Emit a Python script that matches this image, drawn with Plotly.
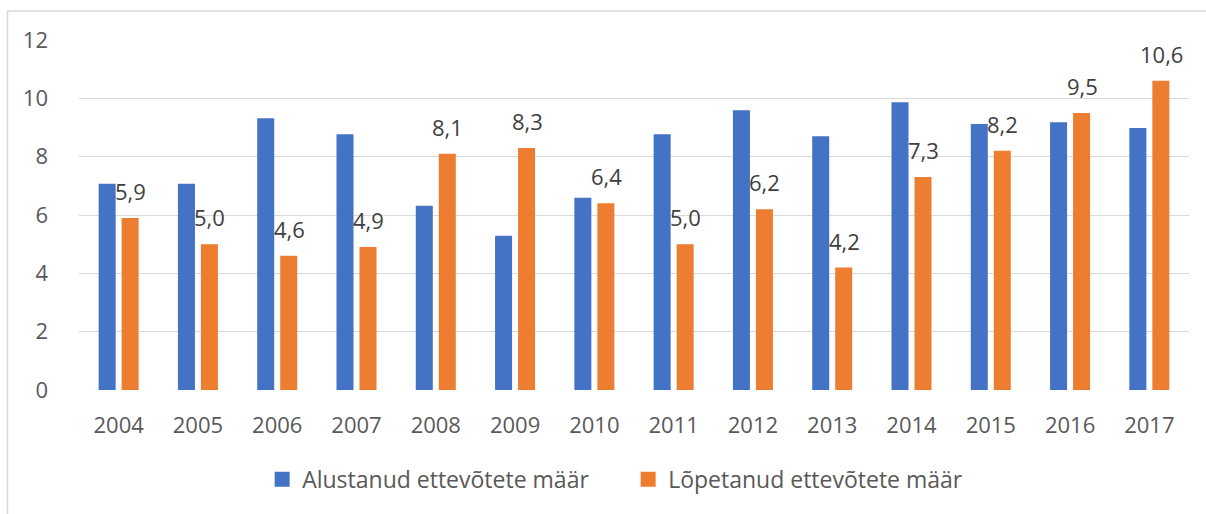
import plotly.graph_objects as go

years = ["2004", "2005", "2006", "2007", "2008", "2009", "2010",
         "2011", "2012", "2013", "2014", "2015", "2016", "2017"]
alustanud = [7.07, 7.07, 9.32, 8.77, 6.32, 5.29, 6.59,
             8.77, 9.59, 8.70, 9.87, 9.12, 9.18, 8.98]
lopetanud = [5.9, 5.0, 4.6, 4.9, 8.1, 8.3, 6.4,
             5.0, 6.2, 4.2, 7.3, 8.2, 9.5, 10.6]
series_names = ["Alustanud ettevõtete määr", "Lõpetanud ettevõtete määr"]
colors = ["#4472C4", "#ED7D31"]
y_ticks = [0, 2, 4, 6, 8, 10, 12]

FONT = "Open Sans"

fig = go.Figure()
for name, vals, col in zip(series_names, [alustanud, lopetanud], colors):
    fig.add_trace(go.Bar(x=years, y=vals, name=name, marker_color=col,
                         marker_line_width=0, showlegend=False))
# legend entries with square markers
for name, col in zip(series_names, colors):
    fig.add_trace(go.Scatter(x=[years[0]], y=[None], mode="markers", name=name,
                             marker=dict(symbol="square", size=15, color=col),
                             showlegend=True, hoverinfo="skip"))

annotations = []
for i, v in enumerate(lopetanud):
    annotations.append(dict(x=i, y=v, xref="x", yref="y", text=f"{v:.1f}".replace(".", ","),
                            showarrow=False, yanchor="bottom", xanchor="center",
                            xshift=12, yshift=10,
                            font=dict(family=FONT, size=22, color="#404040")))

fig.update_layout(
    width=1206, height=514,
    margin=dict(l=79, r=17, t=40, b=123.5, autoexpand=False),
    paper_bgcolor="white", plot_bgcolor="white",
    barmode="group", bargap=0.42, bargroupgap=0.26,
    font=dict(family=FONT, size=22, color="#595959"),
    annotations=annotations,
    legend=dict(orientation="h", x=0.165, xanchor="left", y=-0.255, yanchor="middle",
                font=dict(family=FONT, size=23, color="#595959"),
                bgcolor="rgba(0,0,0,0)", entrywidth=321, entrywidthmode="pixels"),
    shapes=[
        dict(type="line", xref="paper", yref="paper", x0=-0.0644, x1=-0.0644, y0=1.0827, y1=-0.45,
             line=dict(color="#d9d9d9", width=1.5)),
        dict(type="line", xref="paper", yref="paper", x0=-0.0644, x1=1.05, y0=1.0827, y1=1.0827,
             line=dict(color="#d9d9d9", width=1.5)),
    ],
)
fig.update_xaxes(type="category", range=[-0.5, len(years) - 0.5], showgrid=False,
                 zeroline=False, showline=False, automargin=False,
                 ticks="", ticklabelstandoff=20,
                 tickfont=dict(family=FONT, size=22, color="#595959"))
fig.update_yaxes(range=[0, 12], tickvals=y_ticks, ticktext=[str(t) for t in y_ticks],
                 showgrid=True, gridcolor="#d9d9d9", gridwidth=1.3, zeroline=False,
                 showline=False, ticks="", ticklabelstandoff=30, automargin=False,
                 tickfont=dict(family=FONT, size=22, color="#595959"))

fig.write_html("out.html", config={"displayModeBar": False},
               post_script="document.body.style.margin='0px';")
